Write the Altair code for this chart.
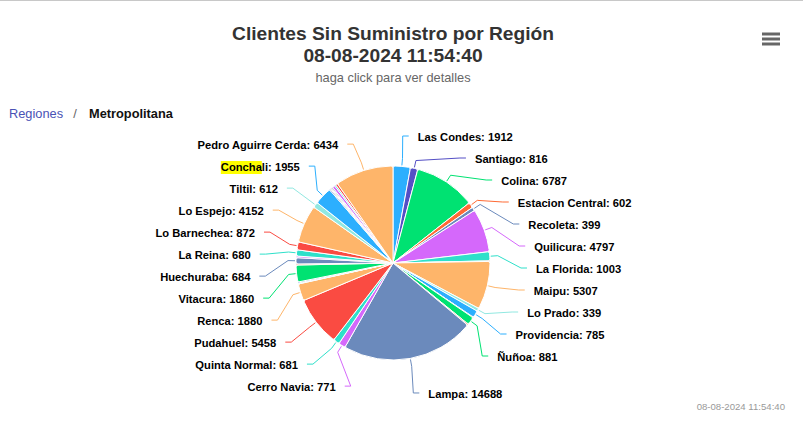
import altair as alt
import pandas as pd

# ---------------- data ----------------
# Slices in drawing order (clockwise from 12 o'clock). Thin slices whose labels
# were hidden by the original chart carry an empty name.
comunas = [
    "Las Condes", "Santiago", "Colina", "Estacion Central", "Recoleta", "Quilicura",
    "La Florida", "", "Maipu", "Lo Prado", "Providencia", "", "Ñuñoa", "", "Lampa",
    "Cerro Navia", "Quinta Normal", "Pudahuel", "Renca", "", "", "", "Vitacura", "",
    "Huechuraba", "", "La Reina", "Lo Barnechea", "Lo Espejo", "Tiltil", "Conchali",
    "", "", "", "", "", "", "", "Pedro Aguirre Cerda",
]
clientes = [
    1912, 816, 6787, 602, 399, 4797,
    1003, 60, 5307, 339, 785, 60, 881, 120, 14688,
    771, 681, 5458, 1880, 50, 50, 120, 1860, 120,
    684, 180, 680, 872, 4152, 612, 1955,
    120, 90, 90, 120, 280, 150, 230, 6434,
]

TITLE_1 = "Clientes Sin Suministro por Región"
TITLE_2 = "08-08-2024 11:54:40"
SUBTITLE = "haga click para ver detalles"
BREAD_ROOT = "Regiones"
BREAD_SEP = "/"
BREAD_LEVEL = "Metropolitana"
CREDITS = "08-08-2024 11:54:40"
HIGHLIGHT = "Conchali"   # label partly highlighted ("Concha") in the reference

PALETTE = ["#2caffe", "#544fc5", "#00e272", "#fe6a35", "#6b8abc",
           "#d568fb", "#2ee0ca", "#fa4b42", "#feb56a", "#91e8e1"]

# ---------------- layout ----------------
W, H = 803, 434
CX, CY, R = 393, 263, 97
RL = R + 30            # natural label radius
STEP = 22              # vertical spacing between stacked labels
TOP = 136              # highest allowed label centre
LA = 143               # horizontal reach of label anchors
LB_TOP, LB_BOT = 133, 130
LCY = CY + 4
FONT = "Liberation Sans"

df = pd.DataFrame({"idx": list(range(len(comunas))), "comuna": comunas, "clientes": clientes})
deco = pd.DataFrame({"k": [0]})

color_scale = alt.Scale(domain=list(range(10)), range=PALETTE)


def base():
    return (
        alt.Chart(df)
        .transform_window(cum="sum(clientes)", sort=[alt.SortField("idx")], frame=[None, 0])
        .transform_joinaggregate(total="sum(clientes)")
        .transform_calculate(ci="datum.idx % 10")
        .transform_calculate(ang="(datum.cum - datum.clientes / 2) / datum.total * 2 * PI")
    )


def labelled():
    sort_ny = [alt.SortField("ny")]
    return (
        base()
        .transform_filter("datum.comuna != ''")
        .transform_calculate(side="datum.ang < PI ? 'R' : 'L'")
        .transform_calculate(ny=f"{CY} + 5 - {RL} * cos(datum.ang)")
        .transform_calculate(label="datum.comuna + ': ' + datum.clientes")
        .transform_window(rn="row_number()", groupby=["side"], sort=sort_ny)
        .transform_calculate(i="datum.rn - 1")
        .transform_joinaggregate(ny_mean="mean(ny)", n="count()", groupby=["side"])
        # push-up pass (from below)
        .transform_calculate(adj=f"datum.ny - {STEP} * datum.i")
        .transform_window(bmin="min(adj)", groupby=["side"], sort=sort_ny, frame=[0, None])
        .transform_calculate(b=f"datum.bmin + {STEP} * datum.i")
        # centred stack
        .transform_calculate(cen=f"datum.ny_mean + {STEP} * (datum.i - (datum.n - 1) / 2)")
        .transform_calculate(adj2=f"max(datum.cen, datum.b) - {STEP} * datum.i")
        # push-down pass with top bound
        .transform_window(cmax="max(adj2)", groupby=["side"], sort=sort_ny, frame=[None, 0])
        .transform_calculate(ly=f"max({TOP}, datum.cmax) + {STEP} * datum.i")
        .transform_calculate(dyl=f"datum.ly - {LCY}")
        .transform_calculate(
            f=f"sqrt(max(0, 1 - pow(datum.dyl / (datum.dyl < 0 ? {LB_TOP} : {LB_BOT}), 2)))"
        )
        .transform_calculate(sgn="datum.side == 'R' ? 1 : -1")
        .transform_calculate(lx=f"{CX} + datum.sgn * {LA} * datum.f")
    )


XN = lambda f: alt.X(f, scale=None, axis=None)
YN = lambda f: alt.Y(f, scale=None, axis=None)

# pie
pie = base().mark_arc(radius=R, stroke="white", strokeWidth=1, cornerRadius=2).encode(
    theta=alt.Theta("clientes:Q", stack=True),
    order=alt.Order("idx:Q"),
    color=alt.Color("ci:O", scale=color_scale, legend=None),
    x=alt.value(CX),
    y=alt.value(CY),
)

# connectors
conn = (
    labelled()
    .transform_calculate(p0x="datum.lx - datum.sgn * 9")
    .transform_calculate(p1x="datum.lx - datum.sgn * 15")
    .transform_calculate(p2x=f"{CX} + {R + 8} * sin(datum.ang)")
    .transform_calculate(p2y=f"{CY} - {R + 8} * cos(datum.ang)")
    .transform_calculate(p3x=f"{CX} + {R + 1} * sin(datum.ang)")
    .transform_calculate(p3y=f"{CY} - {R + 1} * cos(datum.ang)")
    .transform_fold(["p0x", "p1x", "p2x", "p3x"], as_=["pk", "px"])
    .transform_calculate(k="datum.pk == 'p0x' ? 0 : datum.pk == 'p1x' ? 1 : datum.pk == 'p2x' ? 2 : 3")
    .transform_calculate(py="datum.k < 2 ? datum.ly : datum.k == 2 ? datum.p2y : datum.p3y")
    .mark_line(strokeWidth=1)
    .encode(
        x=XN("px:Q"), y=YN("py:Q"),
        order=alt.Order("k:Q"),
        detail="idx:N",
        color=alt.Color("ci:O", scale=color_scale, legend=None),
    )
)

# search highlight behind "Concha"
hl = (
    labelled()
    .transform_filter(f"datum.comuna == '{HIGHLIGHT}'")
    .transform_calculate(hx="datum.lx - 79", hx2="datum.lx - 38",
                         hy="datum.ly - 5", hy2="datum.ly + 8")
    .mark_rect(color="#ffff00")
    .encode(x=XN("hx:Q"), x2="hx2:Q", y=YN("hy:Q"), y2="hy2:Q")
)

txt_kw = dict(font=FONT, fontSize=11.2, fontWeight="bold", color="#000000",
              baseline="middle", dy=2)
lab_r = (labelled().transform_filter("datum.side == 'R'")
         .mark_text(align="left", **txt_kw)
         .encode(x=XN("lx:Q"), y=YN("ly:Q"), text="label:N"))
lab_l = (labelled().transform_filter("datum.side == 'L'")
         .mark_text(align="right", **txt_kw)
         .encode(x=XN("lx:Q"), y=YN("ly:Q"), text="label:N"))


def deco_text(text, x, y, size, color, weight="normal", align="center"):
    return alt.Chart(deco).mark_text(
        font=FONT, fontSize=size, fontWeight=weight, color=color, align=align, baseline="middle"
    ).encode(x=alt.value(x), y=alt.value(y), text=alt.value(text))


def deco_rule(x, x2, y, color, width):
    return alt.Chart(deco).mark_rule(color=color, strokeWidth=width).encode(
        x=alt.value(x), x2=alt.value(x2), y=alt.value(y))


layers = [
    deco_rule(0, W, 0.5, "#c8c8c8", 1),
    deco_text(TITLE_1, CX, 34, 19.2, "#333333", "bold"),
    deco_text(TITLE_2, CX, 56, 19.2, "#333333", "bold"),
    deco_text(SUBTITLE, CX, 78, 12.8, "#666666"),
    deco_text(BREAD_ROOT, 9, 114, 12.8, "#4a52b5", align="left"),
    deco_text(BREAD_SEP, 75, 114, 12.8, "#666666"),
    deco_text(BREAD_LEVEL, 89, 114, 12.8, "#111111", "bold", align="left"),
    deco_rule(762, 780, 34, "#666666", 3),
    deco_rule(762, 780, 39, "#666666", 3),
    deco_rule(762, 780, 44, "#666666", 3),
    deco_text(CREDITS, 785, 407, 9.6, "#999999", align="right"),
    pie, conn, hl, lab_l, lab_r,
]

chart = alt.layer(*layers).properties(
    width=W, height=H, padding=0, autosize="none"
).configure_view(strokeWidth=0)

chart.save("out.html", embed_options={"renderer": "svg", "actions": False})
